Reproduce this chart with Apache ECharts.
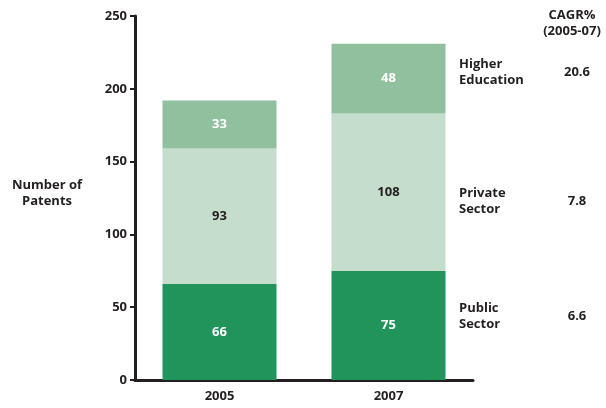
<!DOCTYPE html>
<html>
<head>
<meta charset="utf-8">
<script src="https://cdn.jsdelivr.net/npm/echarts@6/dist/echarts.min.js"></script>
<style>
  html, body { margin: 0; padding: 0; background: #ffffff; }
  #chart { width: 606px; height: 408px; }
</style>
</head>
<body>
<div id="chart"></div>
<script>
// Patents by sector, stacked per year
const years = ['2005', '2007'];
const publicSector = [66, 75];
const privateSector = [93, 108];
const higherEducation = [33, 48];

// Sector names and growth rates shown at the right
const sectorNames = ['Higher\nEducation', 'Private\nSector', 'Public\nSector'];
const cagrValues = ['20.6', '7.8', '6.6'];
const cagrTitle = 'CAGR%\n(2005-07)';
const yTicks = [0, 50, 100, 150, 200, 250];

const INK = '#231f20';
const FONT = '"Open Sans", "Noto Sans", sans-serif';

const chart = echarts.init(document.getElementById('chart'), null, { renderer: 'canvas' });

function seg(name, data, color, textColor) {
  return {
    name: name,
    type: 'bar',
    stack: 'total',
    data: data,
    barWidth: 114,
    itemStyle: { color: color },
    label: {
      show: true,
      position: 'inside',
      color: textColor,
      fontFamily: FONT,
      fontWeight: 'bold',
      fontSize: 13
    },
    emphasis: { disabled: true },
    animation: false
  };
}

// Right-side annotations placed at the mid-height of each block in the 2007 bar
function annotations() {
  const last = years.length - 1;
  const stacks = [
    publicSector[last] + privateSector[last] + higherEducation[last] / 2,
    publicSector[last] + privateSector[last] / 2,
    publicSector[last] / 2
  ];
  const offsets = [-6, 9, -9];
  const els = [];
  stacks.forEach(function (v, i) {
    const p = chart.convertToPixel({ gridIndex: 0 }, [years[last], v]);
    els.push({
      type: 'text',
      x: 459,
      y: p[1] + offsets[i],
      style: { text: sectorNames[i], fill: INK, font: 'bold 13px ' + FONT, lineHeight: 16, align: 'left', verticalAlign: 'middle' }
    });
    els.push({
      type: 'text',
      x: 577,
      y: p[1] + offsets[i],
      style: { text: cagrValues[i], fill: INK, font: 'bold 13px ' + FONT, lineHeight: 16, align: 'center', verticalAlign: 'middle' }
    });
  });
  els.push({
    type: 'text',
    x: 572,
    y: 23,
    style: { text: cagrTitle, fill: INK, font: 'bold 13px ' + FONT, lineHeight: 16, align: 'center', verticalAlign: 'middle' }
  });
  els.push({
    type: 'text',
    x: 47,
    y: 193,
    style: { text: 'Number of\nPatents', fill: INK, font: 'bold 13px ' + FONT, lineHeight: 16, align: 'center', verticalAlign: 'middle' }
  });
  return els;
}

chart.setOption({
  animation: false,
  grid: { left: 135, right: 133, top: 16, bottom: 28, containLabel: false },
  xAxis: {
    type: 'category',
    data: years,
    axisLine: { show: true, lineStyle: { color: INK, width: 3 } },
    axisTick: { show: false },
    axisLabel: { color: INK, fontFamily: FONT, fontWeight: 'bold', fontSize: 13, margin: 10 }
  },
  yAxis: {
    type: 'value',
    min: yTicks[0],
    max: yTicks[yTicks.length - 1],
    interval: 50,
    axisLine: { show: true, lineStyle: { color: INK, width: 3 } },
    axisTick: { show: true, length: 5, lineStyle: { color: INK, width: 2 } },
    splitLine: { show: false },
    axisLabel: { color: INK, fontFamily: FONT, fontWeight: 'bold', fontSize: 13, margin: 8 }
  },
  series: [
    seg('Public Sector', publicSector, '#20945a', '#ffffff'),
    seg('Private Sector', privateSector, '#c4ddcc', INK),
    seg('Higher Education', higherEducation, '#90c09d', '#ffffff')
  ]
});

chart.setOption({ graphic: annotations() });
</script>
</body>
</html>
